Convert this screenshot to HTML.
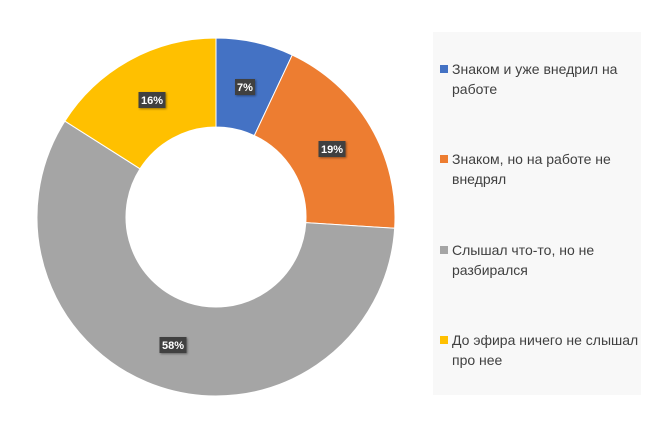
<!DOCTYPE html>
<html><head><meta charset="utf-8"><style>
body{margin:0;background:#fff;width:650px;height:436px;overflow:hidden;font-family:"Liberation Sans","DejaVu Sans",sans-serif}
.lg{position:absolute;left:433px;top:32px;width:208px;height:363px;background:#f8f8f8}
.it{position:absolute;left:452px;font-size:14px;line-height:20px;color:#404040;width:190px}
.sq{position:absolute;left:-12px;top:6px;width:8px;height:8px}
</style></head><body>
<svg width="650" height="436" style="position:absolute;left:0;top:0">
<defs><filter id="s" x="-20%" y="-20%" width="140%" height="140%"><feDropShadow dx="1" dy="1" stdDeviation="1" flood-color="#000" flood-opacity="0.4"/></filter></defs>
<g id="d"></g>
</svg>
<div class="lg"></div>
<div class="it" style="top:59px"><div class="sq" style="background:#4472c4"></div>Знаком и уже внедрил на работе</div>
<div class="it" style="top:149px"><div class="sq" style="background:#ed7d31"></div>Знаком, но на работе не внедрял</div>
<div class="it" style="top:240px"><div class="sq" style="background:#a5a5a5"></div>Слышал что-то, но не разбирался</div>
<div class="it" style="top:330px"><div class="sq" style="background:#ffc000"></div>До эфира ничего не слышал про нее</div>
<script>
var cx=216,cy=217,R=179,r=90,vals=[7,19,58,16],cols=["#4472c4","#ed7d31","#a5a5a5","#ffc000"];
var labs=[[245,87],[332,149],[173,345],[152,100]];
var g=document.getElementById('d'),a=0,h='';
function p(ang,rr){var t=ang/100*2*Math.PI;return [cx+rr*Math.sin(t),cy-rr*Math.cos(t)];}
vals.forEach(function(v,i){var b=a+v,l=v>50?1:0,p1=p(a,R),p2=p(b,R),p3=p(b,r),p4=p(a,r);
h+='<path d="M'+p1+'A'+R+' '+R+' 0 '+l+' 1 '+p2+'L'+p3+'A'+r+' '+r+' 0 '+l+' 0 '+p4+'Z" fill="'+cols[i]+'" stroke="#fff" stroke-width="1"/>';a=b;});
vals.forEach(function(v,i){var x=labs[i][0],y=labs[i][1],w=v<10?20:27;
h+='<rect x="'+(x-w/2)+'" y="'+(y-8)+'" width="'+w+'" height="16" fill="#404040" filter="url(#s)"/><text x="'+x+'" y="'+(y+4)+'" fill="#fff" font-size="11" font-weight="bold" text-anchor="middle" font-family="Liberation Sans, sans-serif">'+v+'%</text>';});
g.innerHTML=h;
</script>
</body></html>
